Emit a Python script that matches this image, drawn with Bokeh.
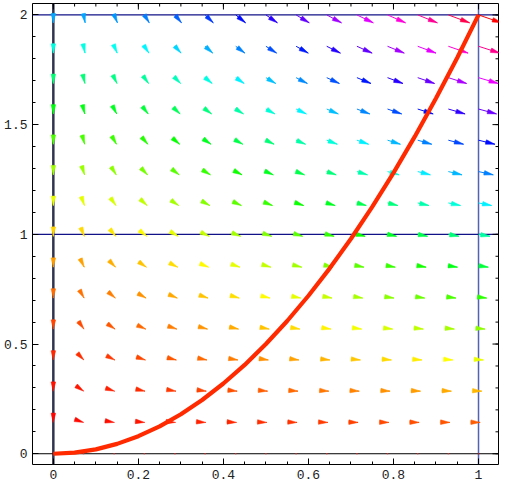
import math
import colorsys
from bokeh.plotting import figure
from bokeh.models import Range1d, FixedTicker, Span
from bokeh.embed import file_html
from bokeh.resources import INLINE

# ---------------- data ----------------
x_grid = [0, 0.071, 0.143, 0.214, 0.286, 0.357, 0.429, 0.5, 0.571, 0.643, 0.714, 0.786, 0.857, 0.929, 1.0]
y_grid = [0, 0.143, 0.286, 0.429, 0.571, 0.714, 0.857, 1.0, 1.143, 1.286, 1.429, 1.571, 1.714, 1.857, 2.0]

# horizontal component of the field, one row per y_grid value
u_table = [
    [0, 0, 0, 0, 0, 0, 0, 0, 0, 0, 0, 0, 0, 0, 0],
    [0, 0.031, 0.061, 0.092, 0.122, 0.153, 0.184, 0.214, 0.245, 0.276, 0.306, 0.337, 0.367, 0.398, 0.429],
    [0, 0.061, 0.122, 0.184, 0.245, 0.306, 0.367, 0.429, 0.490, 0.551, 0.612, 0.673, 0.735, 0.796, 0.857],
    [0, 0.092, 0.184, 0.276, 0.367, 0.459, 0.551, 0.643, 0.735, 0.827, 0.918, 1.01, 1.10, 1.19, 1.29],
    [0, 0.122, 0.245, 0.367, 0.490, 0.612, 0.735, 0.857, 0.980, 1.10, 1.22, 1.35, 1.47, 1.59, 1.71],
    [0, 0.153, 0.306, 0.459, 0.612, 0.765, 0.918, 1.07, 1.22, 1.38, 1.53, 1.68, 1.84, 1.99, 2.14],
    [0, 0.184, 0.367, 0.551, 0.735, 0.918, 1.10, 1.29, 1.47, 1.65, 1.84, 2.02, 2.20, 2.39, 2.57],
    [0, 0.214, 0.429, 0.643, 0.857, 1.07, 1.29, 1.50, 1.71, 1.93, 2.14, 2.36, 2.57, 2.79, 3.00],
    [0, 0.245, 0.490, 0.735, 0.980, 1.22, 1.47, 1.71, 1.96, 2.20, 2.45, 2.69, 2.94, 3.18, 3.43],
    [0, 0.276, 0.551, 0.827, 1.10, 1.38, 1.65, 1.93, 2.20, 2.48, 2.76, 3.03, 3.31, 3.58, 3.86],
    [0, 0.306, 0.612, 0.918, 1.22, 1.53, 1.84, 2.14, 2.45, 2.76, 3.06, 3.37, 3.67, 3.98, 4.29],
    [0, 0.337, 0.673, 1.01, 1.35, 1.68, 2.02, 2.36, 2.69, 3.03, 3.37, 3.70, 4.04, 4.38, 4.71],
    [0, 0.367, 0.735, 1.10, 1.47, 1.84, 2.20, 2.57, 2.94, 3.31, 3.67, 4.04, 4.41, 4.78, 5.14],
    [0, 0.398, 0.796, 1.19, 1.59, 1.99, 2.39, 2.79, 3.18, 3.58, 3.98, 4.38, 4.78, 5.17, 5.57],
    [0, 0.429, 0.857, 1.29, 1.71, 2.14, 2.57, 3.00, 3.43, 3.86, 4.29, 4.71, 5.14, 5.57, 6.00],
]
# vertical component of the field, the same along each row
v_rows = [0, -0.0204, -0.0816, -0.184, -0.327, -0.510, -0.735, -1.0, -1.306, -1.653,
          -2.041, -2.469, -2.939, -3.449, -4.0]

# the path C
curve_x = [0, 0.05, 0.1, 0.15, 0.2, 0.25, 0.3, 0.35, 0.4, 0.45, 0.5,
           0.55, 0.6, 0.65, 0.7, 0.75, 0.8, 0.85, 0.9, 0.95, 1.0]
curve_y = [0, 0.005, 0.02, 0.045, 0.08, 0.125, 0.18, 0.245, 0.32, 0.405, 0.5,
           0.605, 0.72, 0.845, 0.98, 1.125, 1.28, 1.445, 1.62, 1.805, 2.0]

x_ticks = [0, 0.2, 0.4, 0.6, 0.8, 1]
x_tick_labels = ["0", "0.2", "0.4", "0.6", "0.8", "1"]
y_ticks = [0, 0.5, 1, 1.5, 2]
y_tick_labels = ["0", "0.5", "1", "1.5", "2"]

# ---------------- figure ----------------
X0, X1 = -0.049, 1.047
Y0, Y1 = -0.049, 2.052
FW, FH = 466, 461

p = figure(frame_width=FW, frame_height=FH,
           x_range=Range1d(X0, X1), y_range=Range1d(Y0, Y1),
           output_backend="svg", toolbar_location=None,
           min_border_left=32, min_border_right=1, min_border_top=3, min_border_bottom=20)
p.xgrid.visible = False
p.ygrid.visible = False
p.outline_line_color = "black"
p.outline_line_width = 1
p.background_fill_color = "white"
p.border_fill_color = "white"

x_minor = [round(-0.05 + 0.05 * i, 3) for i in range(23)]
y_minor = [round(-0.1 + 0.1 * i, 3) for i in range(23)]

for ax, ticks, minor, labels in ((p.xaxis[0], x_ticks, x_minor, x_tick_labels),
                                 (p.yaxis[0], y_ticks, y_minor, y_tick_labels)):
    ax.ticker = FixedTicker(ticks=ticks, minor_ticks=minor)
    ax.major_label_overrides = dict(zip(ticks, labels))
    ax.axis_line_color = None
    ax.major_tick_in = 6
    ax.major_tick_out = 0
    ax.minor_tick_in = 3
    ax.minor_tick_out = 0
    ax.major_tick_line_color = "black"
    ax.minor_tick_line_color = "black"
    ax.major_label_text_font = "Liberation Mono"
    ax.major_label_text_font_size = "13px"
    ax.major_label_text_color = "#222222"
    ax.major_label_standoff = 5

# ticks on the top and right frame edges (half of each dash is clipped by the frame)
p.scatter(x=x_ticks, y=[Y1] * len(x_ticks), marker="dash", angle=math.pi / 2, size=12,
          line_color="black", line_width=1)
p.scatter(x=x_minor, y=[Y1] * len(x_minor), marker="dash", angle=math.pi / 2, size=6,
          line_color="black", line_width=1)
p.scatter(x=[X1] * len(y_ticks), y=y_ticks, marker="dash", size=12, line_color="black", line_width=1)
p.scatter(x=[X1] * len(y_minor), y=y_minor, marker="dash", size=6, line_color="black", line_width=1)

# reference lines
p.add_layout(Span(location=0, dimension="height", line_color="#30344f", line_width=2.5, level="underlay"))
p.add_layout(Span(location=1, dimension="height", line_color="#5363b3", line_width=1.5, level="underlay"))
p.add_layout(Span(location=0, dimension="width", line_color="black", line_width=1, level="underlay"))
p.add_layout(Span(location=1, dimension="width", line_color="#121288", line_width=1.2, level="underlay"))
p.add_layout(Span(location=2, dimension="width", line_color="#121288", line_width=1.2, level="underlay"))

# ---------------- vector field ----------------
scale = 0.009  # data units per field unit
sx = FW / (X1 - X0)
sy = FH / (Y1 - Y0)
mags = [[math.hypot(u_table[i][j], v_rows[i]) for j in range(len(x_grid))] for i in range(len(y_grid))]
mmax = max(max(r) for r in mags)

xs0, ys0, xs1, ys1, cols, a0, a1 = [], [], [], [], [], [], []
zx, zy = [], []
half = math.radians(14)
for i, yv in enumerate(y_grid):
    for j, xv in enumerate(x_grid):
        u = u_table[i][j]
        v = v_rows[i]
        m = mags[i][j]
        if m == 0:
            zx.append(xv)
            zy.append(yv)
            continue
        h = m / mmax
        r, g, b = colorsys.hsv_to_rgb(h, 1, 1)
        c = "#%02x%02x%02x" % (int(r * 255 + 0.5), int(g * 255 + 0.5), int(b * 255 + 0.5))
        xe = xv + scale * u
        ye = yv + scale * v
        th = math.atan2(v * sy, u * sx) + math.pi
        xs0.append(xv); ys0.append(yv); xs1.append(xe); ys1.append(ye)
        cols.append(c); a0.append(th - half); a1.append(th + half)

p.segment(x0=xs0, y0=ys0, x1=xs1, y1=ys1, line_color=cols, line_width=1)
p.wedge(x=xs1, y=ys1, radius=9.5, radius_units="screen", start_angle=a0, end_angle=a1,
        direction="anticlock", fill_color=cols, line_color=cols, line_width=0.5)
p.scatter(x=zx, y=zy, size=1.5, marker="square", fill_color="#ff3030", line_color=None, fill_alpha=0.6)

# the curve
p.line(curve_x, curve_y, line_color="#ff2a00", line_width=4.2)

open("out.html", "w").write(file_html(p, INLINE))
